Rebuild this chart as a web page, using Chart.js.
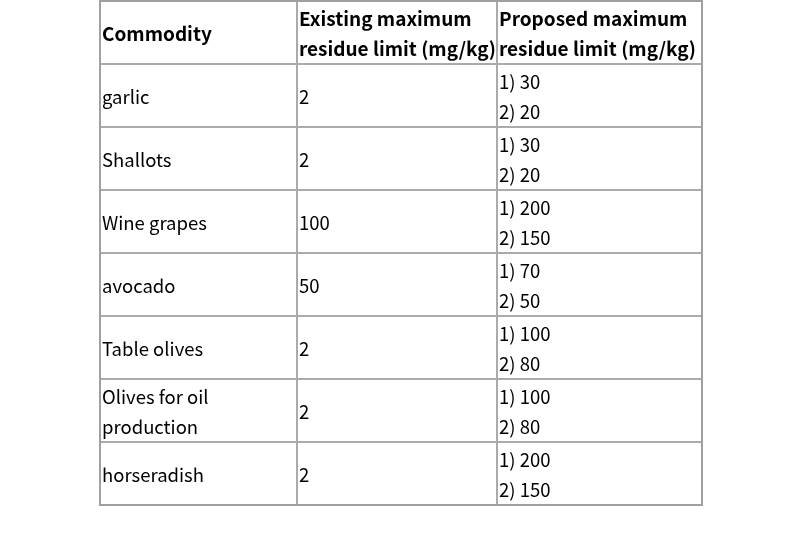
<!DOCTYPE html>
<html>
<head>
<meta charset="utf-8">
<script src="https://cdn.jsdelivr.net/npm/chart.js@4"></script>
<style>
html,body{margin:0;padding:0;background:#fff;}
#wrap{width:800px;height:537px;}
</style>
</head>
<body>
<div id="wrap"><canvas id="tabla"></canvas></div>
<script>
// datos de la tabla
const headers = ['Commodity', 'Existing maximum\nresidue limit (mg/kg)', 'Proposed maximum\nresidue limit (mg/kg)'];
const commodities = ['garlic', 'Shallots', 'Wine grapes', 'avocado', 'Table olives', 'Olives for oil\nproduction', 'horseradish'];
const existingMRL = [2, 2, 100, 50, 2, 2, 2];
const proposed1 = [30, 30, 200, 70, 100, 100, 200];
const proposed2 = [20, 20, 150, 50, 80, 80, 150];

// layout (ancho de columnas en unidades del eje x)
const colEdges = [0, 197, 397, 602];
const fuente = '"Noto Sans CJK SC", "Noto Sans", sans-serif';
const lineH = 30;

function textoCelda(r, c){
  if (c == 0) return commodities[r];
  if (c == 1) return String(existingMRL[r]);
  return '1) ' + proposed1[r] + '\n2) ' + proposed2[r];
}

// un punto por celda (invisible), el plugin dibuja el texto en su posicion
let puntos = [];
for (let r = 0; r < commodities.length; r++){
  for (let c = 0; c < 3; c++){
    puntos.push({x: colEdges[c], y: r + 1.5, r: r, c: c});
  }
}

const tablaPlugin = {
  id: 'tabla',
  afterDatasetsDraw(chart){
    const ctx = chart.ctx;
    const sx = chart.scales.x, sy = chart.scales.y;
    const nRows = commodities.length + 1;
    ctx.save();
    // bordes
    ctx.strokeStyle = '#ababab';
    ctx.lineWidth = 2;
    for (let i = 1; i < nRows; i++){
      const py = Math.round(sy.getPixelForValue(i));
      ctx.beginPath(); ctx.moveTo(sx.getPixelForValue(0), py); ctx.lineTo(sx.getPixelForValue(602), py); ctx.stroke();
    }
    for (let c = 1; c < 3; c++){
      const px = Math.round(sx.getPixelForValue(colEdges[c]));
      ctx.beginPath(); ctx.moveTo(px, sy.getPixelForValue(0)); ctx.lineTo(px, sy.getPixelForValue(nRows)); ctx.stroke();
    }
    ctx.strokeStyle = '#a0a0a0';
    const x0 = sx.getPixelForValue(0), x1 = sx.getPixelForValue(602);
    const y0 = sy.getPixelForValue(0), y1 = sy.getPixelForValue(nRows);
    ctx.strokeRect(x0, y0, x1 - x0, y1 - y0);

    // texto
    ctx.fillStyle = '#000';
    ctx.textBaseline = 'middle';
    ctx.textAlign = 'left';
    function escribir(txt, px, cy){
      const lineas = txt.split('\n');
      const inicio = cy - (lineas.length - 1) * lineH / 2;
      lineas.forEach(function(l, k){ ctx.fillText(l, px, inicio + k * lineH); });
    }
    ctx.font = 'bold 19px ' + fuente;
    for (let c = 0; c < 3; c++){
      escribir(headers[c], sx.getPixelForValue(colEdges[c]) + 2, sy.getPixelForValue(0.5) + 1);
    }
    ctx.font = '18.5px ' + fuente;
    const meta = chart.getDatasetMeta(0);
    meta.data.forEach(function(el, i){
      const p = puntos[i];
      escribir(textoCelda(p.r, p.c), el.x + 2, el.y + 1.5);
    });
    ctx.restore();
  }
};

new Chart(document.getElementById('tabla').getContext('2d'), {
  type: 'scatter',
  data: {datasets: [{data: puntos, pointRadius: 0, pointHoverRadius: 0}]},
  options: {
    responsive: true,
    maintainAspectRatio: false,
    animation: false,
    events: [],
    layout: {padding: {left: 100, right: 98, top: 1, bottom: 32}},
    scales: {
      x: {type: 'linear', min: 0, max: 602, display: false},
      y: {type: 'linear', min: 0, max: 8, reverse: true, display: false}
    },
    plugins: {legend: {display: false}, tooltip: {enabled: false}}
  },
  plugins: [tablaPlugin]
});
</script>
</body>
</html>
